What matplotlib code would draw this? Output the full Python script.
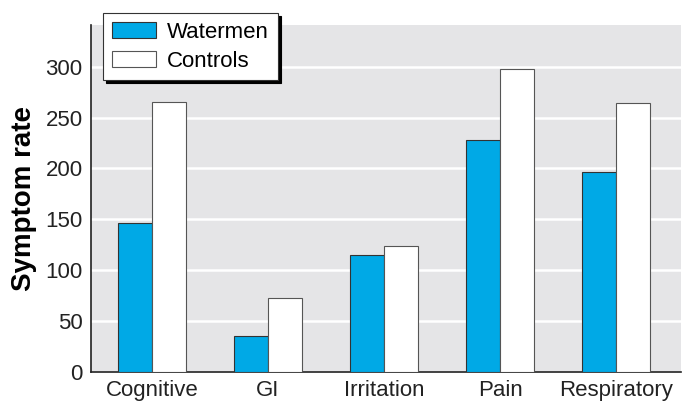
import numpy as np
import matplotlib.pyplot as plt
from matplotlib import font_manager

categories = ["Cognitive", "GI", "Irritation", "Pain", "Respiratory"]
watermen = [146, 35, 115, 228, 197]
controls = [265, 73, 124, 298, 264]
yticks = [0, 50, 100, 150, 200, 250, 300]

names = {f.name for f in font_manager.fontManager.ttflist}
fam = "Liberation Sans Narrow" if "Liberation Sans Narrow" in names else "Liberation Sans"
plt.rcParams["font.family"] = [fam, "DejaVu Sans"]

fig = plt.figure(figsize=(6.94, 4.19), dpi=100)
ax = fig.add_axes([91 / 694, 1 - 372 / 419, 590 / 694, 347 / 419])
ax.set_facecolor("#e5e5e7")

x = np.arange(len(categories))
w = 0.293
ax.bar(x - w / 2, watermen, w, color="#00a9e6", edgecolor="#333333", lw=0.8,
       label="Watermen", zorder=3)
ax.bar(x + w / 2, controls, w, color="white", edgecolor="#555555", lw=0.8,
       label="Controls", zorder=3)

ax.set_ylim(0, 341)
ax.set_xlim(-0.526, len(categories) - 1 + 0.56)
ax.set_yticks(yticks)
ax.set_xticks(x)
ax.set_xticklabels(categories)
ax.yaxis.grid(True, color="white", lw=1.8, zorder=1)
ax.tick_params(length=0, labelsize=16, colors="#222222", pad=6)
for s in ["top", "right"]:
    ax.spines[s].set_visible(False)
for s in ["left", "bottom"]:
    ax.spines[s].set_color("#222222")
    ax.spines[s].set_linewidth(1.2)
ax.set_ylabel("Symptom rate", fontsize=20, fontweight="bold",
              family=["Liberation Sans", "DejaVu Sans"], labelpad=6)

leg = ax.legend(loc="upper left", bbox_to_anchor=(0.02, 1.035), fontsize=16,
                frameon=True, fancybox=False,
                shadow={"color": "black", "alpha": 1},
                edgecolor="#333333", handlelength=2.0, handleheight=0.7,
                borderpad=0.4, labelspacing=0.35, handletextpad=0.5,
                borderaxespad=0)
leg.get_frame().set_linewidth(0.8)

fig.savefig("out.png", dpi=100)
